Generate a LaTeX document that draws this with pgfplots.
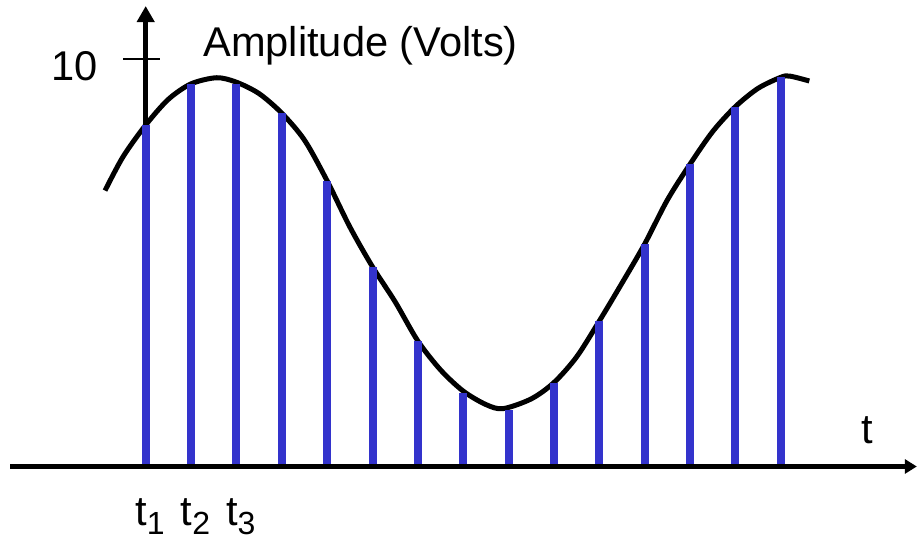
\documentclass[border=0pt]{standalone}
\usepackage{pgfplots}
\pgfplotsset{compat=1.18}
\usetikzlibrary{arrows.meta}
\usepackage{fontspec}
\setmainfont{Liberation Sans}
\definecolor{stemblue}{RGB}{51,51,204}
\newcommand{\tl}[1]{t\raisebox{-4.6pt}{\fontsize{16}{16}\selectfont #1}}
\begin{document}
\begin{tikzpicture}
\useasboundingbox (0,0) rectangle (459.5pt,269pt);
\begin{axis}[hide axis, clip=false, x=22.68pt, y=20.375pt,
  xmin=-3.212, xmax=17.048, ymin=-1.755, ymax=11.448,
  at={(0,0)}, anchor=south west]
% y axis and tick
\draw[line width=2.2pt, -{Triangle[length=8pt,width=8.5pt]}] (axis cs:0,0) -- (axis cs:0,11.30);
\draw[line width=1.3pt] (axis cs:-0.50,10) -- (axis cs:0.315,10);
% analog signal
\addplot[black, line width=2.5pt, smooth] coordinates {
(-0.897,6.77) (-0.5,7.60) (0,8.38) (0.5,9.01) (1,9.39) (1.565,9.54) (2,9.43) (2.5,9.15)
(3,8.67) (3.5,8.01) (4,7.01) (4.5,5.88) (5,4.90) (5.5,4.04) (6,3.08) (6.5,2.37)
(7,1.85) (7.5,1.52) (7.88,1.42) (8.5,1.66) (9,2.06) (9.5,2.69) (10,3.57)
(10.5,4.50) (11,5.46) (11.5,6.54) (12,7.42) (12.5,8.22) (13,8.83) (13.5,9.28)
(14,9.55) (14.2,9.58) (14.63,9.46)};
% samples
\addplot[ycomb, stemblue, line width=4pt, mark=none] coordinates {
(0,8.38) (1,9.39) (2,9.39) (3,8.67) (4,7.01) (5,4.90) (6,3.08) (7,1.81)
(8,1.39) (9,2.06) (10,3.57) (11,5.46) (12,7.42) (13,8.83) (14,9.55)};
% x axis
\draw[line width=2.2pt, -{Triangle[length=6pt,width=7pt]}] (axis cs:-2.991,0) -- (axis cs:17.0,0);
% labels
\node[anchor=base east, inner sep=0pt, font=\fontsize{20.8}{25}\selectfont] at (axis cs:-1.040,9.46) {10};
\node[anchor=base west, inner sep=0pt, font=\fontsize{20.8}{25}\selectfont] at (axis cs:1.263,10.05) {Amplitude (Volts)};
\node[anchor=base, inner sep=0pt, font=\fontsize{20.8}{25}\selectfont] at (axis cs:15.90,0.57) {t};
\node[anchor=base west, inner sep=0pt, font=\fontsize{20.8}{25}\selectfont] at (axis cs:-0.236,-1.436) {\tl{1}};
\node[anchor=base west, inner sep=0pt, font=\fontsize{20.8}{25}\selectfont] at (axis cs:0.764,-1.436) {\tl{2}};
\node[anchor=base west, inner sep=0pt, font=\fontsize{20.8}{25}\selectfont] at (axis cs:1.764,-1.436) {\tl{3}};
\end{axis}
\end{tikzpicture}
\end{document}
